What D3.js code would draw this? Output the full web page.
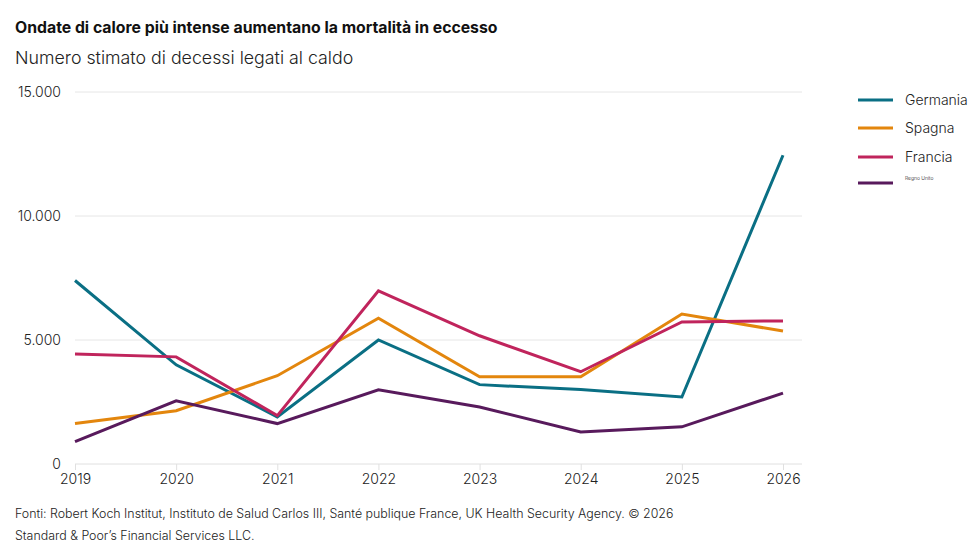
<!DOCTYPE html>
<html>
<head>
<meta charset="utf-8">
<script src="https://cdn.jsdelivr.net/npm/d3@7"></script>
<style>
  body { margin: 0; background: #fff; }
  svg { font-family: Inter, "Noto Sans", sans-serif; }
</style>
</head>
<body>
<div class="chart"></div>
<script>
// dati
var years = [2019, 2020, 2021, 2022, 2023, 2024, 2025, 2026];
var germania = [7400, 4000, 1900, 5000, 3200, 3000, 2700, 12450];
var spagna = [1630, 2150, 3560, 5880, 3520, 3520, 6050, 5360];
var francia = [4440, 4320, 1950, 6980, 5170, 3720, 5730, 5770];
var regnoUnito = [900, 2550, 1630, 2990, 2300, 1290, 1500, 2860];
var yTicks = [0, 5000, 10000, 15000];

var seriesNames = ["Germania", "Spagna", "Francia", "Regno Unito"];
var seriesValues = [germania, spagna, francia, regnoUnito];
var colors = ["#0a6f84", "#e3860d", "#c0245c", "#581a5c"];

var w = 978, h = 550;

var x = d3.scaleLinear()
    .domain([2019, 2026])
    .range([75, 783]);

var y = d3.scaleLinear()
    .domain([0, 15000])
    .range([464, 92]);

var svg = d3.select(".chart")
    .append("svg")
    .attr("width", w)
    .attr("height", h);

var fmt = function(d) {
    return d3.format(",")(d).replace(/,/g, ".");
};

// titolo
svg.append("text")
    .attr("x", 15).attr("y", 33)
    .attr("font-size", 15.8)
    .attr("font-weight", 700)
    .attr("fill", "#111")
    .text("Ondate di calore più intense aumentano la mortalità in eccesso");

svg.append("text")
    .attr("x", 15).attr("y", 64)
    .attr("font-size", 17.8)
    .attr("font-weight", 300)
    .attr("fill", "#222")
    .text("Numero stimato di decessi legati al caldo");

// griglia
svg.append("g")
    .selectAll("line")
    .data(yTicks.filter(d => d > 0))
    .enter()
    .append("line")
    .attr("x1", 75).attr("x2", 802)
    .attr("y1", d => y(d)).attr("y2", d => y(d))
    .attr("stroke", "#e6e6e6")
    .attr("stroke-width", 1);

svg.append("g")
    .selectAll("text")
    .data(yTicks)
    .enter()
    .append("text")
    .attr("x", 61)
    .attr("y", d => y(d) + 5)
    .attr("text-anchor", "end")
    .attr("font-size", 14)
    .attr("font-weight", 300)
    .attr("fill", "#222")
    .text(fmt);

// asse x
var axisX = d3.axisBottom(x)
    .tickValues(years)
    .tickFormat(d3.format("d"))
    .tickSize(6)
    .tickPadding(4);

var gx = svg.append("g")
    .attr("transform", "translate(0," + y(0) + ")")
    .call(axisX);

gx.select(".domain").remove();
gx.append("line")
    .attr("x1", 75).attr("x2", 802)
    .attr("stroke", "#e0e0e0");
gx.selectAll(".tick line").attr("stroke", "#e0e0e0");
gx.selectAll(".tick text")
    .attr("font-family", "Inter, 'Noto Sans', sans-serif")
    .attr("font-size", 14)
    .attr("font-weight", 300)
    .attr("fill", "#222");

// linee
var line = d3.line()
    .x((d, i) => x(years[i]))
    .y(d => y(d));

svg.append("g")
    .selectAll("path")
    .data(seriesValues)
    .enter()
    .append("path")
    .attr("d", line)
    .attr("fill", "none")
    .attr("stroke", (d, i) => colors[i])
    .attr("stroke-width", 3)
    .attr("stroke-linejoin", "miter");

// legenda
var legendY = [100, 128, 157, 183];
var legend = svg.append("g")
    .selectAll("g")
    .data(seriesNames)
    .enter()
    .append("g")
    .attr("transform", (d, i) => "translate(858," + legendY[i] + ")");

legend.append("line")
    .attr("x1", 0).attr("x2", 35)
    .attr("stroke", (d, i) => colors[i])
    .attr("stroke-width", 3);

legend.append("text")
    .attr("x", 47)
    .attr("y", (d, i) => i == 3 ? -3 : 5)
    .attr("font-size", (d, i) => i == 3 ? 5 : 14)
    .attr("font-weight", 300)
    .attr("fill", "#222")
    .text(d => d);

// fonti
svg.append("text")
    .attr("x", 15).attr("y", 518)
    .attr("font-size", 12.4)
    .attr("font-weight", 300)
    .attr("fill", "#222")
    .text("Fonti: Robert Koch Institut, Instituto de Salud Carlos III, Santé publique France, UK Health Security Agency. © 2026");

svg.append("text")
    .attr("x", 15).attr("y", 540)
    .attr("font-size", 12.4)
    .attr("font-weight", 300)
    .attr("fill", "#222")
    .text("Standard & Poor’s Financial Services LLC.");
</script>
</body>
</html>
